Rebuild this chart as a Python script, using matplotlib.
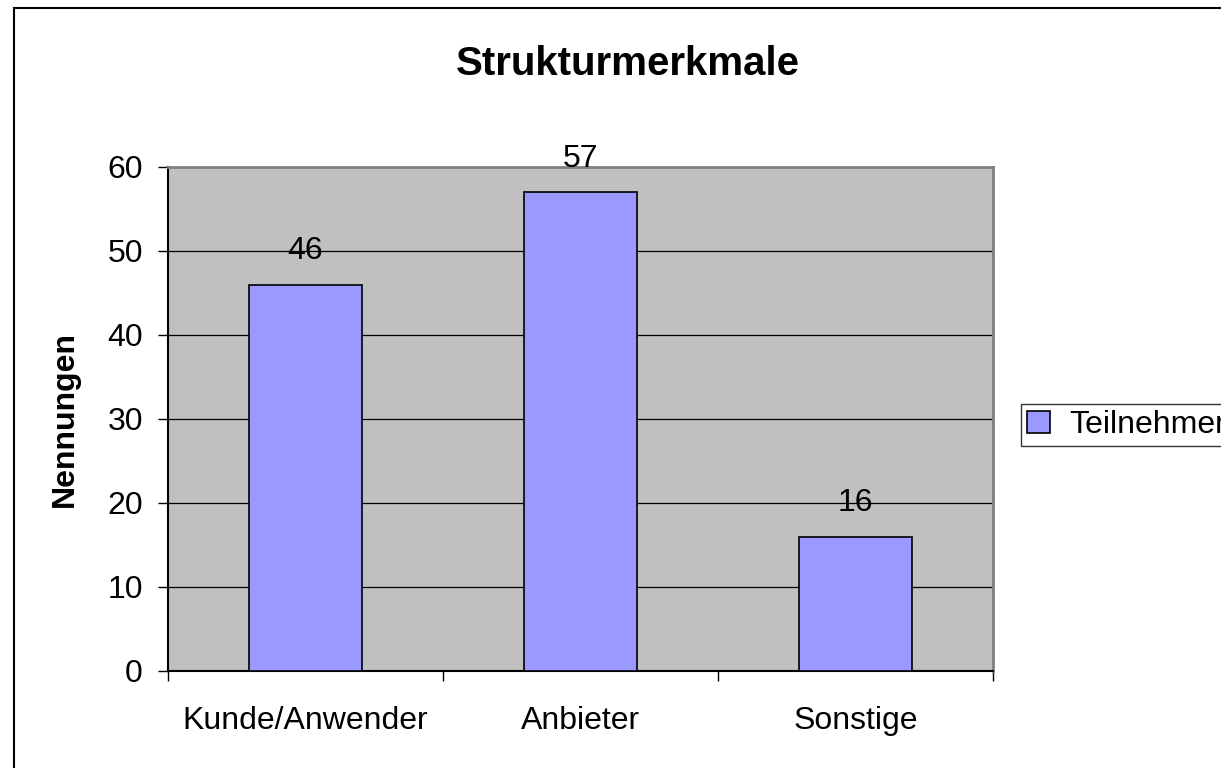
import matplotlib
matplotlib.use('Agg')
import matplotlib.pyplot as plt
from matplotlib.patches import Rectangle

plt.rcParams['font.family'] = ['Liberation Sans', 'DejaVu Sans']

categories = ['Kunde/Anwender', 'Anbieter', 'Sonstige']
values = [46, 57, 16]
series_name = 'Teilnehmer'
y_ticks = [0, 10, 20, 30, 40, 50, 60]

W, H = 1221, 768
fig = plt.figure(figsize=(W / 100, H / 100), dpi=100)

# outer chart border (cut off at right/bottom in the original)
fig.patches.append(Rectangle((14 / W, -1), 2, 2 - 8 / H, transform=fig.transFigure,
                             fill=False, edgecolor='black', linewidth=1.5))

ax = fig.add_axes([168 / W, 97 / H, 825 / W, 504 / H])
ax.set_facecolor('#C0C0C0')

x = list(range(len(categories)))
bars = ax.bar(x, values, width=0.41, color='#9999FF', edgecolor='black',
              linewidth=1.2, zorder=3, label=series_name)
for xi, v in zip(x, values):
    ax.text(xi, v + 2.2, str(v), ha='center', va='bottom', fontsize=23, zorder=4)

ax.set_xlim(-0.5, 2.5)
ax.set_ylim(0, 60)
ax.set_yticks(y_ticks)
ax.set_yticklabels([str(t) for t in y_ticks], fontsize=23)
for t in y_ticks[1:-1]:
    ax.axhline(t, color='black', linewidth=0.9, zorder=1)

# category ticks at boundaries, labels at centres
ax.set_xticks([-0.5, 0.5, 1.5, 2.5])
ax.set_xticklabels([])
ax.set_xticks(x, minor=True)
ax.set_xticklabels(categories, minor=True, fontsize=23)
ax.tick_params(axis='x', which='minor', length=0, pad=25)
ax.tick_params(axis='x', which='major', length=7, direction='out', width=1)
ax.tick_params(axis='y', length=7, direction='out', width=1, pad=11)

for s in ['top', 'right']:
    ax.spines[s].set_color('#808080')
    ax.spines[s].set_linewidth(2)
for s in ['left', 'bottom']:
    ax.spines[s].set_color('black')
    ax.spines[s].set_linewidth(1.5)

ax.set_ylabel('Nennungen', fontsize=23, fontweight='bold', labelpad=20)
fig.text(628 / W, 1 - 64 / H, 'Strukturmerkmale', ha='center', va='center',
         fontsize=29, fontweight='bold')

leg = fig.legend(handles=[bars], labels=[series_name], loc='center left',
                 bbox_to_anchor=(1021 / W, 1 - 425 / H), fontsize=23,
                 frameon=True, fancybox=False, edgecolor='black',
                 handlelength=0.7, handleheight=0.7, handletextpad=0.6,
                 borderpad=0.2, borderaxespad=0)
leg.get_frame().set_linewidth(1)

fig.savefig('out.png', dpi=100)
